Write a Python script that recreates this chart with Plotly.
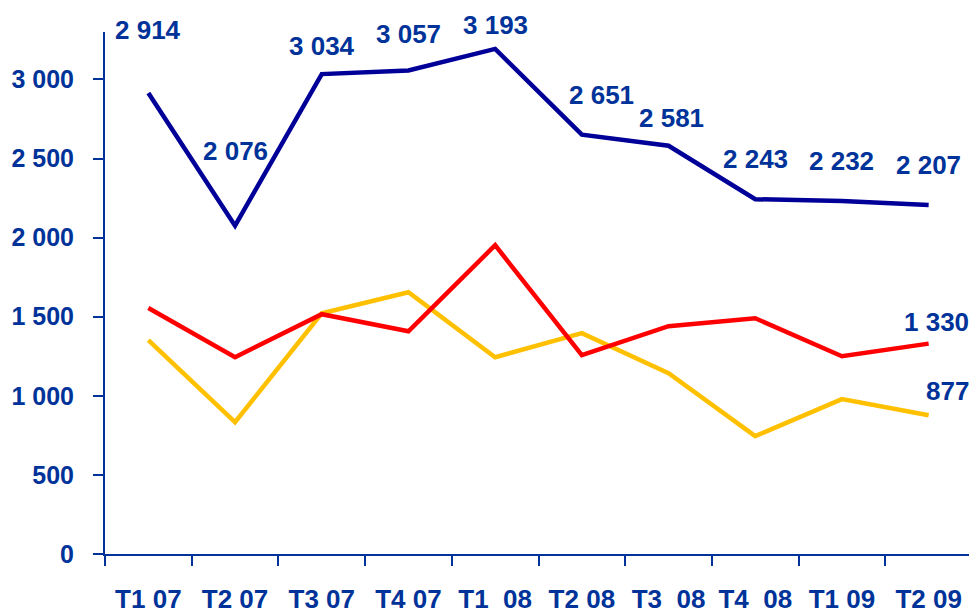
import plotly.graph_objects as go

# Quarterly values
quarters = ["T1 07", "T2 07", "T3 07", "T4 07", "T1  08",
            "T2 08", "T3  08", "T4  08", "T1 09", "T2 09"]
blue_vals = [2914, 2076, 3034, 3057, 3193, 2651, 2581, 2243, 2232, 2207]
red_vals = [1555, 1244, 1516, 1408, 1952, 1257, 1440, 1490, 1250, 1330]
yellow_vals = [1352, 834, 1522, 1655, 1244, 1396, 1143, 745, 979, 877]
y_ticks = [0, 500, 1000, 1500, 2000, 2500, 3000]

TEXT_BLUE = "#003399"
FONT = "Liberation Sans, Arial"
LBL = dict(family=FONT, size=26, color=TEXT_BLUE, weight="bold")


def fmt(v):
    return f"{v:,}".replace(",", " ")


fig = go.Figure()

fig.add_trace(go.Scatter(x=quarters, y=yellow_vals, mode="lines",
                         line=dict(color="#FFC000", width=4.5)))
fig.add_trace(go.Scatter(x=quarters, y=red_vals, mode="lines",
                         line=dict(color="#FF0000", width=4.5)))
fig.add_trace(go.Scatter(x=quarters, y=blue_vals, mode="lines",
                         line=dict(color="#000099", width=4.5)))

# label offsets (px) for the blue series, as placed in the original
blue_shift = [(0, 63), (0, 75), (0, 28), (0, 36), (0, 24),
              (20, 40), (3, 28), (0, 40), (0, 40), (0, 40)]
for q, v, (dx, dy) in zip(quarters, blue_vals, blue_shift):
    fig.add_annotation(x=q, y=v, text=fmt(v), showarrow=False,
                       xshift=dx, yshift=dy, font=LBL)

fig.add_annotation(x=quarters[-1], y=red_vals[-1], text=fmt(red_vals[-1]),
                   showarrow=False, xshift=8, yshift=22, font=LBL)
fig.add_annotation(x=quarters[-1], y=yellow_vals[-1], text=fmt(yellow_vals[-1]),
                   showarrow=False, xshift=19, yshift=24, font=LBL)

# page body adds an 8px margin, so the figure is 8px smaller each way
fig.update_layout(
    width=969, height=607,
    margin=dict(l=97, r=5, t=24, b=61),
    plot_bgcolor="white", paper_bgcolor="white",
    showlegend=False,
    xaxis=dict(
        type="category", range=[-0.5, 9.5], tickson="boundaries",
        showline=True, linecolor=TEXT_BLUE, linewidth=2,
        ticks="outside", ticklen=10, tickwidth=2, tickcolor=TEXT_BLUE,
        showgrid=False, zeroline=False, ticklabelstandoff=21,
        tickangle=0, automargin=False, tickfont=LBL,
    ),
    yaxis=dict(
        range=[0, 3300], tickvals=y_ticks, ticktext=[fmt(v) for v in y_ticks],
        showline=True, linecolor=TEXT_BLUE, linewidth=2,
        ticks="outside", ticklen=10, tickwidth=2, tickcolor=TEXT_BLUE,
        showgrid=False, zeroline=False, ticklabelstandoff=14,
        automargin=False, tickfont=dict(LBL, size=25),
    ),
)

fig.write_html("out.html")
